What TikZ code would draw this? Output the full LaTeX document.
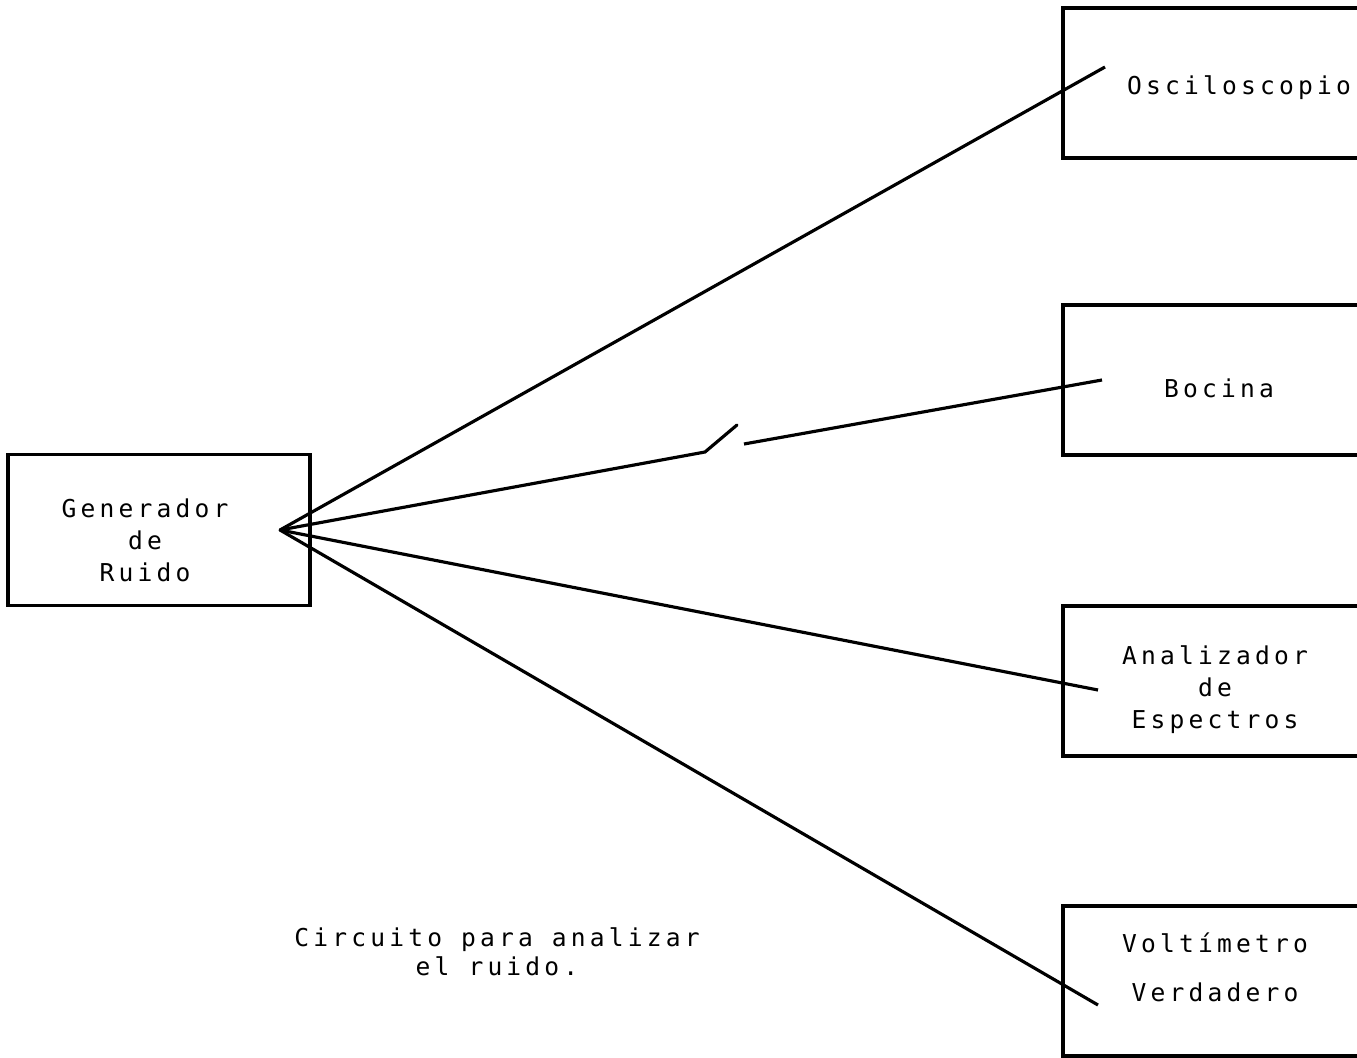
\documentclass[tikz,border=0pt]{standalone}
\usepackage{fontspec}
\setmonofont[LetterSpace=17]{DejaVu Sans Mono}
\usetikzlibrary{positioning}
\tikzset{
  devbox/.style={draw,line width=2pt,minimum width=6.2cm,minimum height=3cm,inner sep=0pt},
  genbox/.style={devbox,minimum width=6.04cm,minimum height=3.02cm},
  link/.style={line width=1.8pt},
  typed/.style={font=\ttfamily\fontsize{14}{18.2}\selectfont,align=center,inner sep=0pt}
}

\begin{document}
\begin{tikzpicture}[x=0.02cm,y=-0.02cm,
  every node/.style={typed}]

\useasboundingbox (0,0) rectangle (1357,1058);
\clip (0,0) rectangle (1357,1058);

% Source on the left
\node[genbox] (gen) at (159,530) {};
\node (gen-t) at (145,540) {Generador\\de\\Ruido};
\coordinate (fan) at (280,530);

% Instruments on the right, cut by the page edge
\node[devbox] (osc) at (1218,83) {};
\node[devbox] (boc) at (1218,380) {};
\node[devbox] (ana) at (1218,681) {};
\node[devbox] (volt) at (1218,981) {};

\node (osc-t) at (1239,88) {Osciloscopio};
\node (boc-t) at (1219,388) {Bocina};
\node (ana-t) at (1215,690) {Analizador\\de\\Espectros};
\node (volt-t) at (1215,967) {Voltímetro\\[0.34cm]Verdadero};

% Line ends inside the boxes
\coordinate (osc-in) at (1105,67);
\coordinate (boc-in) at (1102,380);
\coordinate (ana-in) at (1098,690);
\coordinate (volt-in) at (1098,1005);

% Switch on the Bocina line
\coordinate (sw-a) at (705,452);
\coordinate (sw-b) at (737,425);
\coordinate (sw-c) at (744,444);

% Connections
\draw[link] (fan) -- (osc-in);
\draw[link,line cap=round] (fan) -- (sw-a) -- (sw-b);
\draw[link] (sw-c) -- (boc-in);
\draw[link] (fan) -- (ana-in);
\draw[link] (fan) -- (volt-in);

% Caption
\node[font=\ttfamily\fontsize{14}{16.5}\selectfont] (cap) at (497,952) {Circuito para analizar\\el ruido.};

\end{tikzpicture}
\end{document}
